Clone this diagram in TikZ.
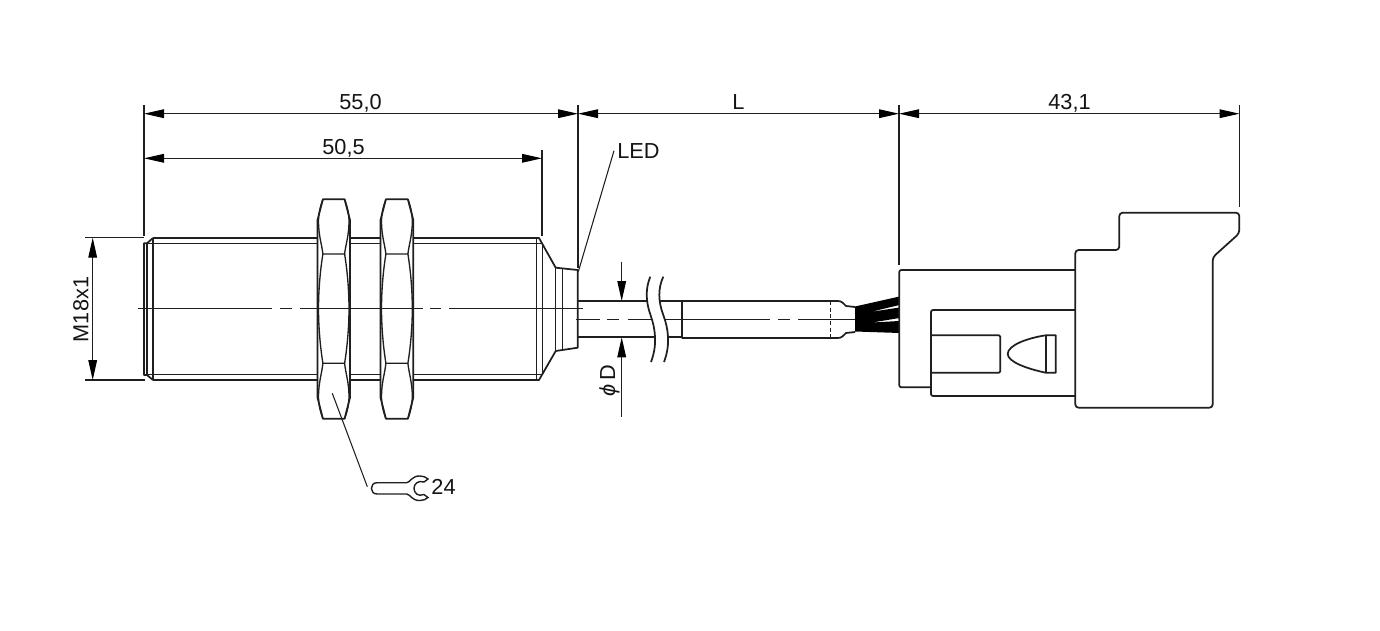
\documentclass[tikz,border=0pt]{standalone}
\usepackage{fontspec}
\setmainfont{Liberation Sans}
\usetikzlibrary{arrows.meta}
\colorlet{lineink}{black!88}
\tikzset{
  x=0.75pt,y=-0.75pt,
  outline/.style={draw=lineink,line width=1.3pt,line join=round},
  thin part/.style={draw=lineink,line width=1pt},
  aux/.style={draw=lineink,line width=0.8pt},
  center axis/.style={draw=lineink,line width=0.85pt},
  dim/.style={aux,{Triangle[length=15pt,width=6.5pt,black]}-{Triangle[length=15pt,width=6.5pt,black]}},
  arrowin/.style={aux,-{Triangle[length=15pt,width=6.5pt,black]}},
  label/.style={font=\fontsize{16.3}{18}\selectfont,text=black!92,inner sep=0pt,anchor=center},
}
\newcommand{\nutshape}[2]{%
  \pgfmathsetmacro{\la}{#1+5.4}\pgfmathsetmacro{\ra}{#2-5.4}
  \pgfmathsetmacro{\lb}{#1+1}\pgfmathsetmacro{\rb}{#2-1}
  \draw[outline,fill=white] (\la,199.3) -- (\ra,199.3) -- (#2,220) -- (#2,397.5) -- (\ra,418.7) -- (\la,418.7) -- (#1,397.5) -- (#1,220) -- cycle;
  \draw[thin part] (\la,199.3) .. controls (\la-2.5,206) and (\lb,213) .. (\lb,222) .. controls (\lb,235) and (\la-1,245) .. (\la,254) -- (\ra,254) .. controls (\ra+1,245) and (\rb,235) .. (\rb,222) .. controls (\rb,213) and (\ra+2.5,206) .. (\ra,199.3);
  \draw[thin part] (\la,418.7) .. controls (\la-2.5,412) and (\lb,405) .. (\lb,396) .. controls (\lb,383) and (\la-1,373) .. (\la,363.3) -- (\ra,363.3) .. controls (\ra+1,373) and (\rb,383) .. (\rb,396) .. controls (\rb,405) and (\ra+2.5,412) .. (\ra,418.7);
  \draw[thin part] (\la,254) .. controls (#1+2,275) and (\lb,295) .. (\lb,308.7) .. controls (\lb,322) and (#1+2,342) .. (\la,363.3);
  \draw[thin part] (\ra,254) .. controls (#2-2,275) and (\rb,295) .. (\rb,308.7) .. controls (\rb,322) and (#2-2,342) .. (\ra,363.3);
}
\begin{document}
\begin{tikzpicture}
\path[use as bounding box,fill=white] (0,0) rectangle (1380,631);

% named points
\coordinate (extA) at (144,105);   \coordinate (extAb) at (144,235.5);
\coordinate (extB) at (578,105);   \coordinate (extBb) at (578,268);
\coordinate (extC) at (542,150);   \coordinate (extCb) at (542,235.5);
\coordinate (extD) at (899,105);   \coordinate (extDb) at (899,265);
\coordinate (extE) at (1239.5,105);\coordinate (extEb) at (1239.5,207);
\coordinate (dA) at (144,113.7);  \coordinate (dB) at (578,113.7);
\coordinate (dD) at (899,113.7);  \coordinate (dE) at (1239.5,113.7);
\coordinate (eA) at (144,158.3);  \coordinate (eC) at (542,158.3);
\coordinate (mT) at (92.7,237.7); \coordinate (mB) at (92.7,380);
\coordinate (mTl) at (85,237.7);  \coordinate (mTr) at (144,237.7);
\coordinate (mBl) at (85,380);    \coordinate (mBr) at (145,380);
\coordinate (fT0) at (621.7,261.7); \coordinate (fT) at (621.7,301);
\coordinate (fB0) at (621.7,416.7); \coordinate (fB) at (621.7,337.3);
\coordinate (ledA) at (578.3,271.7); \coordinate (ledB) at (614,150.7);
\coordinate (wrA) at (332.3,393.3);  \coordinate (wrB) at (367.3,486.7);

% extension lines
\draw[aux] (extA) -- (extAb);
\draw[aux] (extB) -- (extBb);
\draw[aux] (extC) -- (extCb);
\draw[aux] (extD) -- (extDb);
\draw[aux] (extE) -- (extEb);
\draw[aux] (mTl) -- (mTr);
\draw[aux] (mBl) -- (mBr);

% dimension lines
\draw[dim] (dA) -- (dB);
\draw[dim] (dB) -- (dD);
\draw[dim] (dD) -- (dE);
\draw[dim] (eA) -- (eC);
\draw[dim] (mT) -- (mB);
\draw[arrowin] (fT0) -- (fT);
\draw[arrowin] (fB0) -- (fB);

% threaded body
\draw[outline] (153,238) -- (536.7,238) (153,380) -- (536.7,380);
\draw[thin part] (147,243.3) -- (542,243.3) (147,374.3) -- (542,374.3);
\draw[outline] (153,238) -- (147,243.3) -- (144,243.3) -- (144,375) -- (147,375) -- (153,380);
\draw[thin part] (147,243.3) -- (147,375);
\draw[thin part] (153,238) -- (153,380);
\draw[thin part] (536.7,238) -- (536.7,380);
\draw[thin part] (542.3,243.3) -- (542.3,374.3);
\draw[outline] (536.7,238) -- (539,238) -- (555.7,267.7) -- (577.7,270) -- (577.7,347.7) -- (555.7,351) -- (539,380) -- (536.7,380);
\draw[thin part] (555.7,267.7) -- (555.7,351);
\draw[thin part] (562.3,268.4) -- (562.3,350);

% nuts
\nutshape{317.5}{350}
\nutshape{380.5}{413.3}

% leaders
\draw[aux] (ledA) -- (ledB);
\draw[aux] (wrA) -- (wrB);

% axis
\draw[center axis] (137.7,308.7) -- (271.5,308.7) (280,308.7) -- (292,308.7) (300,308.7) -- (422.7,308.7) (430,308.7) -- (441,308.7) (449,308.7) -- (583,308.7);

% cable, first piece
\draw[outline] (578,301) -- (646.7,301) (578,337.3) -- (655,337.3);
\draw[center axis] (575.7,319.3) -- (600,319.3) (607,319.3) -- (619,319.3) (627.7,319.3) -- (651,319.3);
% break marks
\draw[outline] (650.3,276.7) .. controls (645.5,288) and (645.5,301) .. (650.5,315) .. controls (655.5,329) and (657.5,345) .. (651,362);
\draw[outline] (663.3,276.7) .. controls (658,288) and (658,301) .. (663.3,315) .. controls (668.5,329) and (670.5,345) .. (664,362);
% cable, second piece
\draw[outline] (659,301) -- (681.7,301) (668,337.3) -- (681.7,337.3);
\draw[outline] (681.7,301) -- (681.7,338);
\draw[outline] (681.7,301) -- (835,301) .. controls (840,301) and (841,301) .. (844,304) -- (846,306) -- (855,307);
\draw[outline] (681.7,338) -- (835,338) .. controls (840,338) and (841,338) .. (844,335) -- (846,333) -- (855,332);
\draw[center axis] (664,319.3) -- (770,319.3) (778,319.3) -- (790,319.3) (798,319.3) -- (855,319.3);
\draw[thin part,densely dashed] (830.7,301) -- (830.7,338);
\fill[black] (855,306.5) -- (899.5,296.5) -- (899.5,305) -- (870,312) -- (899.5,307.5) -- (899.5,318) -- (872,322.5) -- (899.5,321) -- (899.5,333) -- (855,331.5) -- cycle;

% connector
\draw[outline,rounded corners=1.5pt] (1075.3,270) -- (899.3,270) -- (899.3,387.3) -- (931,387.3);
\draw[outline,rounded corners=1.5pt] (1075.3,310) -- (931,310) -- (931,396) -- (1075.3,396);
\draw[outline,rounded corners=1pt] (931,335.3) -- (1000.3,335.3) -- (1000.3,372.7) -- (931,372.7);
\draw[outline] (1045.7,335.3) .. controls (1028,338) and (1007.7,345) .. (1007.7,354) .. controls (1007.7,362) and (1028,369) .. (1045.7,372.7) -- (1055.7,372.7) -- (1055.7,335.3) -- cycle;
\draw[outline] (1045.7,335.3) -- (1045.7,372.7);
\draw[outline,rounded corners=2.5pt] (1075.3,330) -- (1075.3,250) -- (1119.3,250) -- (1119.3,212.7) -- (1239.3,212.7) -- (1239.3,233.3) -- (1212.7,257.3) -- (1212.7,407.7) -- (1075.3,407.7) -- (1075.3,330);

% wrench
\draw[thin part,line width=1.05pt] (406.7,482.7) -- (377,482.7) .. controls (369.5,482.7) and (369.5,494) .. (377,494) -- (406.7,494) .. controls (410,494) and (412,501) .. (420,500.5) .. controls (423,500.5) and (426,499.5) .. (428,497.5) -- (424,494.5) .. controls (418,497) and (414,493) .. (414,488.3) .. controls (414,484) and (418,480) .. (424,482) -- (428,479) .. controls (426,477) and (423,476) .. (420,476) .. controls (412,475.5) and (410,482.7) .. (406.7,482.7) -- cycle;

% labels
\node[label] (t55) at (360.5,103.2) {55,0};
\node[label] (t50) at (343.5,148) {50,5};
\node[label] (tL) at (738.5,102) {L};
\node[label] (t43) at (1069.5,103.2) {43,1};
\node[label] (tLED) at (638.5,151) {LED};
\node[label] (t24) at (443.5,487) {24};
\node[label,rotate=90] (tM) at (81,309.5) {M18x1};
\node[label,rotate=90] (tD) at (609.5,381) {\itshape ϕ\,\upshape D};
\end{tikzpicture}
\end{document}
